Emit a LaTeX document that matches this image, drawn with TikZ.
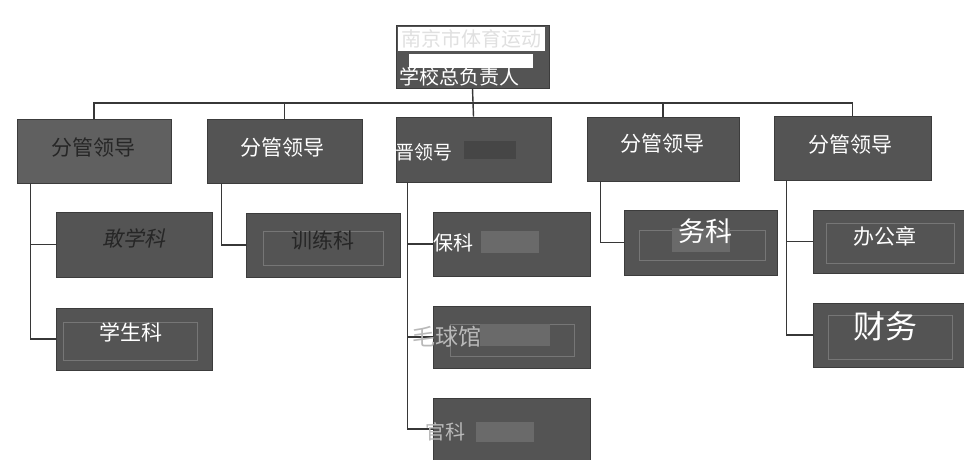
\documentclass[tikz,border=0pt]{standalone}
\usepackage{fontspec}
\newfontfamily\cjk{Noto Sans CJK SC}
\newfontfamily\cjkit{Noto Sans CJK SC}[FakeSlant=0.2]
\definecolor{boxfill}{RGB}{84,84,84}
\definecolor{boxlight}{RGB}{96,96,96}
\definecolor{boxedge}{RGB}{60,60,60}
\definecolor{linecol}{RGB}{55,55,55}
\definecolor{smudge}{RGB}{70,70,70}
\definecolor{lightpatch}{RGB}{106,106,106}
\definecolor{faint}{RGB}{118,118,118}
\definecolor{greytext}{RGB}{185,185,185}
\tikzset{
  box/.style={rectangle, draw=boxedge, line width=0.6pt, fill=boxfill, inner sep=0pt},
  wpatch/.style={rectangle, fill=white, draw=none, inner sep=0pt},
  gpatch/.style={rectangle, fill=lightpatch, draw=none, inner sep=0pt},
  dpatch/.style={rectangle, fill=smudge, draw=none, inner sep=0pt},
  inner/.style={rectangle, draw=faint, line width=0.5pt, fill=none, inner sep=0pt},
  txt/.style={font=\cjk\fontsize{21}{21}\selectfont, text=white, inner sep=0pt},
  dtxt/.style={txt, text=black!85},
  conn/.style={draw=linecol, line width=1.4pt}
}
\begin{document}
\begin{tikzpicture}[x=1pt,y=-1pt]
\useasboundingbox (0,0) rectangle (964,459);
\fill[white] (0,0) rectangle (964,459);

% top box
\node[box, minimum width=153, minimum height=63] (T) at (472.5,56.5) {};
\node[wpatch, minimum width=147, minimum height=24] (P1) at (471.5,39) {};
\node[txt, text=black!12, font=\cjk\fontsize{20}{20}\selectfont] (tT1) at (471.5,39) {南京市体育运动};
\node[wpatch, minimum width=124, minimum height=14] (P2) at (471,61) {};
\node[txt, font=\cjk\fontsize{20}{20}\selectfont] (tT2) at (459,77) {学校总负责人};

% level 2 boxes
\node[box, fill=boxlight, minimum width=154, minimum height=64] (L1) at (94,151) {};
\node[box, minimum width=155, minimum height=64] (L2) at (284.5,151) {};
\node[box, minimum width=155, minimum height=65] (L3) at (473.5,149.5) {};
\node[box, minimum width=152, minimum height=64] (L4) at (663,149) {};
\node[box, minimum width=157, minimum height=64] (L5) at (852.5,148) {};

\node[dtxt] (tL1) at (93,148) {分管领导};
\node[txt] (tL2) at (282,148) {分管领导};
\node[dpatch, minimum width=52, minimum height=18] (S3) at (490,150) {};
\node[txt, anchor=west, font=\cjk\fontsize{19}{19}\selectfont] (tL3) at (395,152) {晋领号};
\node[txt] (tL4) at (662,144) {分管领导};
\node[txt] (tL5) at (850,145) {分管领导};

% level 3 boxes
\node[box, minimum width=156, minimum height=65] (A1) at (134,244.5) {};
\node[box, minimum width=156, minimum height=62] (A2) at (134,339) {};
\node[box, minimum width=154, minimum height=64] (B1) at (323,245) {};
\node[box, minimum width=157, minimum height=64] (C1) at (511.5,244) {};
\node[box, minimum width=157, minimum height=62] (C2) at (511.5,337) {};
\node[box, minimum width=157, minimum height=62] (C3) at (511.5,429) {};
\node[box, minimum width=153, minimum height=65] (D1) at (700.5,242.5) {};
\node[box, minimum width=152, minimum height=63] (E1) at (889,241.5) {};
\node[box, minimum width=152, minimum height=64] (E2) at (889,335) {};

% faint inner outlines and patches (scan artefacts)
\node[inner, minimum width=134, minimum height=38] (iA2) at (130,341) {};
\node[inner, minimum width=120, minimum height=34] (iB1) at (323,248) {};
\node[gpatch, minimum width=58, minimum height=22] (gC1) at (510,242) {};
\node[inner, minimum width=124, minimum height=32] (iC2) at (512,340) {};
\node[gpatch, minimum width=70, minimum height=22] (gC2) at (515,335) {};
\node[gpatch, minimum width=58, minimum height=20] (gC3) at (505,432) {};
\node[inner, minimum width=126, minimum height=30] (iD1) at (702,245) {};
\node[gpatch, minimum width=58, minimum height=24] (gD1) at (701,240) {};
\node[inner, minimum width=128, minimum height=40] (iE1) at (890,243) {};
\node[inner, minimum width=124, minimum height=44] (iE2) at (890,337) {};

% connectors
\coordinate (bus) at (472,103);
\draw[conn] (T.south) -- (L3.north);
\draw[conn] (L1.north) |- (bus) -| (L5.north);
\draw[conn] (L2.north) -- (L2.north |- bus);
\draw[conn] (L4.north) -- (L4.north |- bus);

\coordinate (k1) at ([xshift=14pt]L1.south west);
\draw[conn] (k1) |- (A1.west);
\draw[conn] (k1) |- (A2.west);

\coordinate (k2) at ([xshift=15pt]L2.south west);
\draw[conn] (k2) |- (B1.west);

\coordinate (k3) at ([xshift=12pt]L3.south west);
\draw[conn] (k3) |- (C1.west);
\draw[conn] (k3) |- (C2.west);
\draw[conn] (k3) |- (C3.west);

\coordinate (k4) at ([xshift=14pt]L4.south west);
\draw[conn] (k4) |- (D1.west);

\coordinate (k5) at ([xshift=13pt]L5.south west);
\draw[conn] (k5) |- (E1.west);
\draw[conn] (k5) |- (E2.west);

% level 3 texts
\node[dtxt, font=\cjkit\fontsize{21}{21}\selectfont] (tA1) at (134,238) {敢学科};
\node[txt] (tA2) at (131,332) {学生科};
\node[dtxt] (tB1) at (323,240) {训练科};
\node[txt, anchor=west, font=\cjk\fontsize{20}{20}\selectfont] (tC1) at (433,243) {保科};
\node[txt, text=greytext, anchor=west, font=\cjk\fontsize{23}{23}\selectfont] (tC2) at (412,337) {毛球馆};
\node[txt, text=greytext, anchor=west, font=\cjk\fontsize{20}{20}\selectfont] (tC3) at (425,432) {官科};
\node[txt, font=\cjk\fontsize{27}{27}\selectfont] (tD1) at (705.5,231) {务科};
\node[txt] (tE1) at (885,236) {办公章};
\node[txt, font=\cjk\fontsize{32}{32}\selectfont] (tE2) at (885,326) {财务};
\end{tikzpicture}
\end{document}
